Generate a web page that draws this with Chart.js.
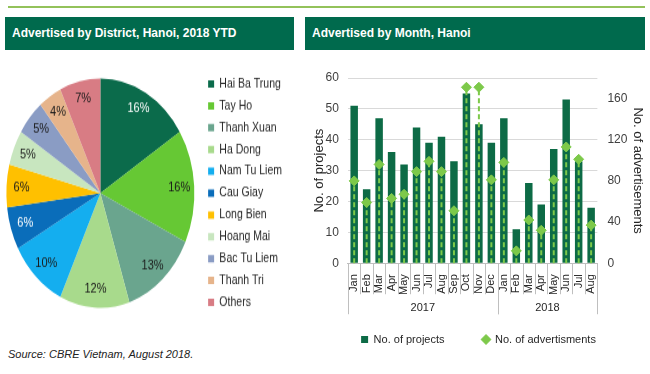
<!DOCTYPE html>
<html>
<head>
<meta charset="utf-8">
<script src="https://cdn.jsdelivr.net/npm/chart.js@4.4.0/dist/chart.umd.min.js"></script>
<style>
  body { margin: 0; width: 650px; height: 374px; background: #fff; position: relative; overflow: hidden;
         font-family: "Liberation Sans", Arial, sans-serif; }
  .topline { position: absolute; left: 8px; top: 6px; width: 637px; height: 2px; background: #93C25A; }
  .head { position: absolute; top: 17px; height: 33px; background: #006A4D; color: #fff; font-weight: bold;
          font-size: 12px; line-height: 33px; padding-left: 7px; box-sizing: border-box; }
  #pieWrap { position: absolute; left: 0; top: 62px; width: 300px; height: 215px;
             transform: scaleY(1.22); transform-origin: 0 0; }
  #barWrap { position: absolute; left: 305px; top: 55px; width: 345px; height: 300px; }
  .source { position: absolute; left: 8px; top: 348px; font-size: 11px; font-style: italic; color: #222; }
</style>
</head>
<body>
<div class="topline"></div>
<div class="head" style="left:5px;width:289px;">Advertised by District, Hanoi, 2018 YTD</div>
<div class="head" style="left:305px;width:340px;">Advertised by Month, Hanoi</div>
<div id="pieWrap"><canvas id="pieChart"></canvas></div>
<div id="barWrap"><canvas id="barChart"></canvas></div>
<div class="source">Source: CBRE Vietnam, August 2018.</div>

<script>
// pie data
const districts = ['Hai Ba Trung', 'Tay Ho', 'Thanh Xuan', 'Ha Dong', 'Nam Tu Liem', 'Cau Giay',
                   'Long Bien', 'Hoang Mai', 'Bac Tu Liem', 'Thanh Tri', 'Others'];
const districtShares = [16, 16, 13, 12, 10, 6, 6, 5, 5, 4, 7];
const districtColors = ['#0B6B4B', '#66C834', '#6AA58E', '#A8DA8C', '#14AEEF', '#0A6DBA',
                        '#FFC000', '#C8E6BF', '#8A9CC4', '#E6B48B', '#D87C84'];
const pieTextColors = ['#fff', '#1a1a1a', '#1a1a1a', '#1a1a1a', '#1a1a1a', '#fff',
                       '#1a1a1a', '#1a1a1a', '#1a1a1a', '#1a1a1a', '#1a1a1a'];

// monthly data
const months = ['Jan', 'Feb', 'Mar', 'Apr', 'May', 'Jun', 'Jul', 'Aug', 'Sep', 'Oct', 'Nov', 'Dec',
                'Jan', 'Feb', 'Mar', 'Apr', 'May', 'Jun', 'Jul', 'Aug'];
const years = ['2017', '2018'];
const monthsPerYear = [12, 8];
const projects = [51, 24, 47, 36, 32, 44, 39, 41, 33, 55, 45, 39, 47, 11, 26, 19, 37, 53, 33, 18];
const adverts = [80, 59, 96, 63, 67, 89, 99, 89, 51, 171, 171, 81, 98, 12, 42, 32, 81, 113, 101, 37];
const rightTicks = [0, 40, 80, 120, 160];

const FONT = '"Liberation Sans", Arial, sans-serif';
const barGreen = '#0D6B46';
const lightGreen = '#7DC94A';

const pieLabels = {
  id: 'pieLabels',
  afterDatasetsDraw(chart) {
    const ctx = chart.ctx;
    chart.getDatasetMeta(0).data.forEach((arc, i) => {
      const p = arc.getProps(['x', 'y', 'startAngle', 'endAngle', 'outerRadius'], true);
      const mid = (p.startAngle + p.endAngle) / 2;
      const r = p.outerRadius * 0.84;
      ctx.save();
      ctx.font = '11px ' + FONT;
      ctx.fillStyle = pieTextColors[i];
      ctx.textAlign = 'center';
      ctx.textBaseline = 'middle';
      ctx.fillText(districtShares[i] + '%', p.x + Math.cos(mid) * r, p.y + Math.sin(mid) * r);
      ctx.restore();
    });
  }
};

new Chart(document.getElementById('pieChart'), {
  type: 'pie',
  data: {
    labels: districts,
    datasets: [{ data: districtShares, backgroundColor: districtColors, borderWidth: 0, radius: 94 }]
  },
  options: {
    responsive: true,
    maintainAspectRatio: false,
    animation: false,
    layout: { padding: { right: 8 } },
    plugins: {
      legend: {
        position: 'right',
        labels: { boxWidth: 6, boxHeight: 6, padding: 7.4, color: '#262626', font: { family: FONT, size: 10.5 } }
      },
      tooltip: { enabled: false }
    }
  },
  plugins: [pieLabels]
});

// dashed drop lines under the diamonds and the two level month / year axis
const monthDecor = {
  id: 'monthDecor',
  beforeDatasetDraw(chart, args) {
    if (args.index !== 1) return;
    const ctx = chart.ctx;
    const base = chart.scales.y1.getPixelForValue(0);
    ctx.save();
    ctx.strokeStyle = lightGreen;
    ctx.lineWidth = 2;
    ctx.setLineDash([5, 3]);
    args.meta.data.forEach(pt => {
      ctx.beginPath();
      ctx.moveTo(pt.x, base);
      ctx.lineTo(pt.x, pt.y);
      ctx.stroke();
    });
    ctx.restore();
  },
  afterDraw(chart) {
    const ctx = chart.ctx;
    const x = chart.scales.x;
    const top = chart.chartArea.bottom;
    const half = (x.getPixelForValue(1) - x.getPixelForValue(0)) / 2;
    ctx.save();
    ctx.strokeStyle = '#BFBFBF';
    ctx.lineWidth = 1;
    months.forEach((m, i) => {
      const px = Math.round(x.getPixelForValue(i) - half) + 0.5;
      ctx.beginPath(); ctx.moveTo(px, top); ctx.lineTo(px, top + 31); ctx.stroke();
    });
    let start = 0;
    years.forEach((yr, k) => {
      const end = start + monthsPerYear[k];
      const left = x.getPixelForValue(start) - half;
      const right = x.getPixelForValue(end - 1) + half;
      [left, right].forEach(v => {
        const px = Math.round(v) + 0.5;
        ctx.beginPath(); ctx.moveTo(px, top); ctx.lineTo(px, top + 51); ctx.stroke();
      });
      ctx.fillStyle = '#262626';
      ctx.font = '11px ' + FONT;
      ctx.textAlign = 'center';
      ctx.textBaseline = 'middle';
      ctx.fillText(yr, (left + right) / 2, top + 45);
      start = end;
    });
    ctx.restore();
  }
};

new Chart(document.getElementById('barChart'), {
  type: 'bar',
  data: {
    labels: months,
    datasets: [{
      label: 'No. of projects',
      data: projects,
      backgroundColor: barGreen,
      pointStyle: 'rect',
      yAxisID: 'y',
      order: 2,
      barPercentage: 0.6,
      categoryPercentage: 1
    }, {
      type: 'line',
      label: 'No. of advertisments',
      data: adverts,
      yAxisID: 'y1',
      order: 1,
      showLine: false,
      pointStyle: 'rectRot',
      pointRadius: 5,
      pointBorderWidth: 1,
      backgroundColor: lightGreen,
      borderColor: lightGreen
    }]
  },
  options: {
    responsive: true,
    maintainAspectRatio: false,
    animation: false,
    layout: { padding: { left: 3, top: 23, right: 1 } },
    scales: {
      x: {
        grid: { display: false },
        border: { display: true, color: '#BFBFBF' },
        ticks: { minRotation: 90, maxRotation: 90, autoSkip: false, padding: 3,
                 color: '#262626', font: { family: FONT, size: 11 } },
        afterFit(scale) { scale.height -= 2; }
      },
      y: {
        min: 0, max: 60,
        ticks: { stepSize: 10, padding: 9, color: '#404040', font: { family: FONT, size: 12 } },
        grid: { color: '#D9D9D9', drawTicks: false },
        border: { display: false },
        title: { display: true, text: 'No. of projects', color: '#262626', font: { family: FONT, size: 13 } },
        afterFit(scale) { scale.width -= 15; }
      },
      y1: {
        position: 'right',
        min: 0, max: 180,
        afterBuildTicks(scale) { scale.ticks = rightTicks.map(v => ({ value: v })); },
        ticks: { padding: 10, color: '#404040', font: { family: FONT, size: 12 } },
        grid: { display: false, drawTicks: false },
        border: { display: false },
        title: { display: true, text: 'No. of advertisements', color: '#262626', font: { family: FONT, size: 13 } },
        afterFit(scale) { scale.width -= 12; }
      }
    },
    plugins: {
      legend: {
        position: 'bottom',
        labels: {
          usePointStyle: true, boxWidth: 7, boxHeight: 7, padding: 38,
          color: '#262626', font: { family: FONT, size: 11 },
          sort: (a, b) => a.datasetIndex - b.datasetIndex
        }
      },
      tooltip: { enabled: false }
    }
  },
  plugins: [monthDecor]
});
</script>
</body>
</html>
